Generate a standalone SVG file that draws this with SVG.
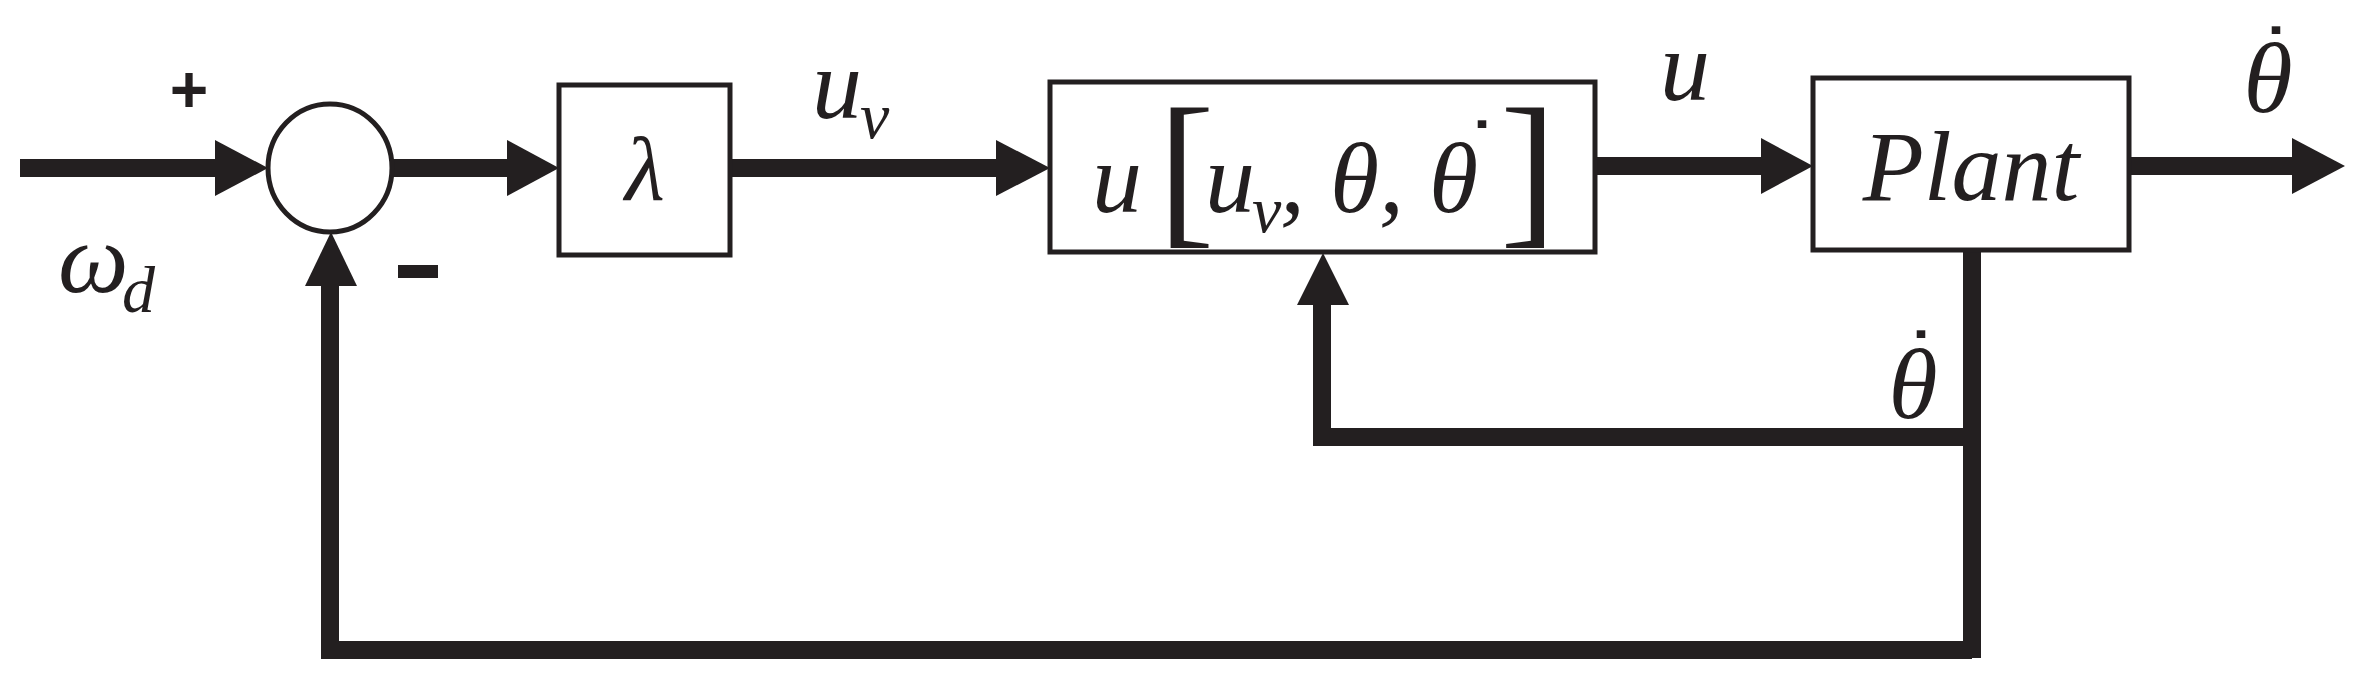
<svg xmlns="http://www.w3.org/2000/svg" width="2359" height="679" viewBox="0 0 2359 679">
<style>
.ln{stroke:#231f20;stroke-width:18;fill:none}
.bx{stroke:#231f20;stroke-width:5;fill:#fff}
.ah{fill:#231f20}
.m{font-family:"Liberation Serif","DejaVu Serif",serif;font-style:italic;fill:#231f20}
.d{font-family:"DejaVu Sans",sans-serif;fill:#231f20;font-weight:bold}
.s{font-family:"Liberation Sans",sans-serif;fill:#231f20;font-weight:bold}
</style>
<rect width="2359" height="679" fill="#fff"/>
<g id="connectors">
<line class="ln" x1="20" y1="168" x2="220" y2="168"/>
<polygon class="ah" points="215,140 268,168 215,196"/>
<line class="ln" x1="392" y1="168" x2="510" y2="168"/>
<polygon class="ah" points="507,140 559,168 507,196"/>
<line class="ln" x1="730" y1="168" x2="1000" y2="168"/>
<polygon class="ah" points="996,140 1050,168 996,196"/>
<line class="ln" x1="1595" y1="166" x2="1765" y2="166"/>
<polygon class="ah" points="1761,138 1813,166 1761,194"/>
<line class="ln" x1="2129" y1="166" x2="2295" y2="166"/>
<polygon class="ah" points="2292,138 2345,166 2292,194"/>
<polyline class="ln" points="1972,250 1972,658"/>
<polyline class="ln" points="1972,650 330,650 330,280"/>
<polygon class="ah" points="305,286 331,232 357,286"/>
<polyline class="ln" points="1972,437 1322,437 1322,300"/>
<polygon class="ah" points="1297,305 1323,253 1349,305"/>
</g>
<g id="sum">
<ellipse class="bx" cx="330" cy="168" rx="62" ry="64"/>
<text class="s" x="189" y="112" font-size="66" text-anchor="middle">+</text>
<rect class="ah" x="398" y="265" width="40" height="13"/>
</g>
<g id="lambda">
<rect class="bx" x="559" y="85" width="171" height="170"/>
<text class="m" x="645" y="200" font-size="92" text-anchor="middle">λ</text>
</g>
<g id="controller">
<rect class="bx" x="1050" y="82" width="545" height="170"/>
<text class="m" x="1092" y="212" font-size="100">u</text>
<text x="1158" y="225" font-size="170" font-family="Liberation Serif,serif" fill="#231f20">[</text>
<text class="m" x="1205" y="212" font-size="100">u</text>
<text class="m" x="1252" y="232" font-size="66">v</text>
<text class="m" x="1280" y="212" font-size="100">, θ, θ</text>
<text class="d" x="1482" y="170" font-size="64" text-anchor="middle">˙</text>
<text x="1500" y="225" font-size="170" font-family="Liberation Serif,serif" fill="#231f20">]</text>
</g>
<g id="plant">
<rect class="bx" x="1813" y="78" width="316" height="172"/>
<text class="m" x="1971" y="200" font-size="100" text-anchor="middle">Plant</text>
</g>
<g id="labels">
<text class="m" x="58" y="292" font-size="100">ω</text>
<text class="m" x="122" y="312" font-size="66">d</text>
<text class="m" x="812" y="118" font-size="100">u</text>
<text class="m" x="860" y="138" font-size="66">v</text>
<text class="m" x="1660" y="100" font-size="100">u</text>
<text class="m" x="2268" y="112" font-size="100" text-anchor="middle">θ</text>
<text class="d" x="2276" y="76" font-size="64" text-anchor="middle">˙</text>
<text class="m" x="1913" y="418" font-size="100" text-anchor="middle">θ</text>
<text class="d" x="1921" y="380" font-size="64" text-anchor="middle">˙</text>
</g>
</svg>
